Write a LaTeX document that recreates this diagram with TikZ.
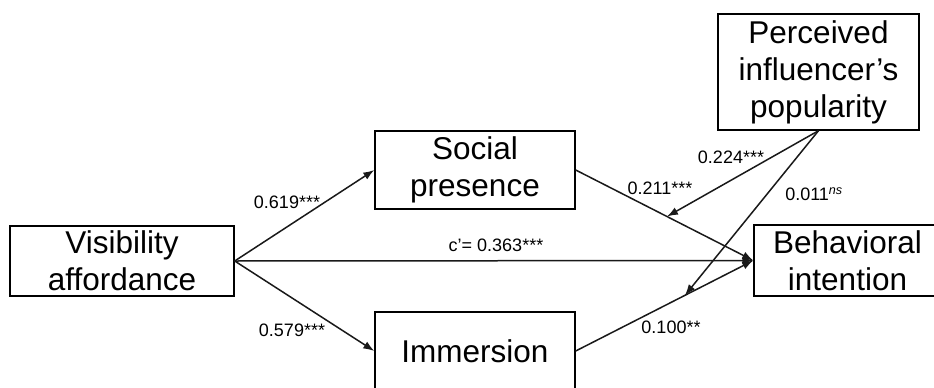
\documentclass[tikz,border=0pt]{standalone}
\usepackage{fontspec}
\setmainfont{Liberation Sans}
\usetikzlibrary{arrows.meta,calc}
\begin{document}
\begin{tikzpicture}[x=1pt,y=-1pt,
  box/.style={draw=black,line width=1.4pt,inner sep=0pt,align=center,
    font=\fontsize{31.5}{37}\selectfont},
  conn/.style={line width=1.5pt,draw=black!90,-{Latex[length=11pt,width=8pt]}},
  lab/.style={font=\fontsize{18}{20}\selectfont,inner sep=0pt}]
\useasboundingbox (0,0) rectangle (934,388);
\clip (0,0) rectangle (934,388);
\node[box,minimum width=224pt,minimum height=70pt] (vis) at (122,261) {Visibility\\affordance};
\node[box,minimum width=200pt,minimum height=78pt] (soc) at (475,170) {Social\\presence};
\node[box,minimum width=200pt,minimum height=78pt] (imm) at (475,351) {Immersion};
\node[box,minimum width=187pt,minimum height=71pt] (beh) at (847.5,260.5) {Behavioral\\intention};
\node[box,minimum width=201pt,minimum height=116pt] (per) at (818.5,72) {Perceived\\influencer’s\\popularity};
\draw[conn] (vis.east) -- (soc.west);
\draw[conn] (vis.east) -- (imm.west);
\draw[conn] (vis.east) -- (beh.west);
\draw[conn] (soc.east) -- (beh.west);
\draw[conn] (imm.east) -- (beh.west);
\coordinate (m1) at ($(soc.east)!0.514!(beh.west)$);
\coordinate (m2) at ($(imm.east)!0.615!(beh.west)$);
\draw[conn] (per.south) -- (m1);
\draw[conn] (per.south) -- (m2);
\node[lab] (l1) at (287,202) {0.619***};
\node[lab] (l2) at (292,330) {0.579***};
\node[lab] (l3) at (496,245) {c'= 0.363***};
\node[lab] (l4) at (731,157) {0.224***};
\node[lab] (l5) at (660,188) {0.211***};
\node[lab] (l6) at (814,194) {0.011\textsuperscript{\textit{ns}}};
\node[lab] (l7) at (671,327) {0.100**};
\end{tikzpicture}
\end{document}
